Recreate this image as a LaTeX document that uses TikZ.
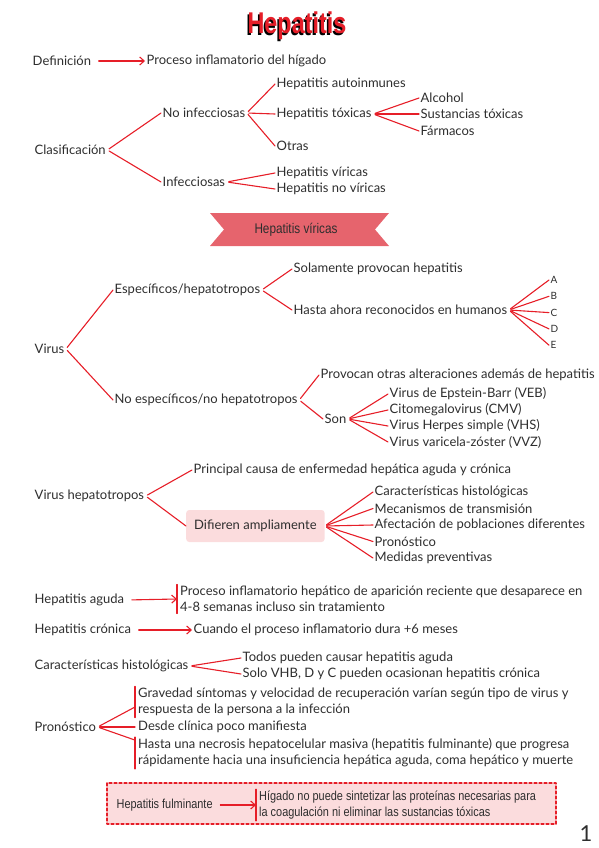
\documentclass[tikz,border=0pt]{standalone}
\usepackage{fontspec}
\setmainfont{Lato}
\newfontfamily\narrowsf[FakeStretch=0.84]{Liberation Sans}
\newfontfamily\titlesf[FakeStretch=0.78]{Liberation Sans}
\usetikzlibrary{arrows.meta}
\definecolor{mapred}{HTML}{E61E28}
\definecolor{ink}{HTML}{2E2E2E}
\definecolor{ribbon}{HTML}{E6646D}
\definecolor{blush}{HTML}{FBDCDD}
\begin{document}
\begin{tikzpicture}[x=1pt, y=-1pt, line cap=round, line join=round, font=\fontsize{13}{15}\selectfont, >={Straight Barb[length=4.5pt,width=8pt]}]
	\tikzset{txt/.style={anchor=west, inner sep=1.5pt, text=ink},
		lns/.style={txt, align=left, inner xsep=3pt, font=\fontsize{13}{16}\selectfont},
		br/.style={draw=mapred, line width=1.1pt, shorten <=2pt},
		arr/.style={br, ->, shorten <=6pt},
		bar/.style={draw=mapred, line width=1.1pt},
		slim/.style={font=\narrowsf\fontsize{13}{16}\selectfont}}
	\useasboundingbox (0,0) rectangle (599,848);
	% title
	\node[text=black, font=\titlesf\bfseries\fontsize{30}{30}\selectfont] (titleshadow) at (295.5,27.5) {Hepatitis};
	\node[text=mapred, font=\titlesf\bfseries\fontsize{30}{30}\selectfont] (title) at (297,26) {Hepatitis};
	% definicion
	\node[txt] (def) at (31,61) {Definición};
	\node[txt] (defx) at (145,61) {Proceso inflamatorio del hígado};
	\draw[arr] (def.east) -- (defx.west);
	% clasificacion
	\node[txt] (clas) at (33,150) {Clasificación};
	\node[txt] (noinf) at (161,113) {No infecciosas};
	\node[txt] (inf) at (161,182) {Infecciosas};
	\node[txt] (auto) at (275,84) {Hepatitis autoinmunes};
	\node[txt] (tox) at (275,114) {Hepatitis tóxicas};
	\node[txt] (otras) at (275,146) {Otras};
	\node[txt] (alc) at (419,98) {Alcohol};
	\node[txt] (sust) at (419,114) {Sustancias tóxicas};
	\node[txt] (farm) at (419,131) {Fármacos};
	\node[txt] (vir) at (275,173) {Hepatitis víricas};
	\node[txt] (novir) at (275,189) {Hepatitis no víricas};
	\foreach \a/\b in {clas/noinf, clas/inf, noinf/auto, noinf/tox, noinf/otras, tox/alc, tox/sust, tox/farm, inf/vir, inf/novir}
		\draw[br] (\a.east) -- (\b.west);
	% banner
	\fill[ribbon] (210,213) -- (389,213) -- (375,229.5) -- (389,246) -- (210,246) -- (224,229.5) -- cycle;
	\node[slim, text=ink, font=\narrowsf\fontsize{14}{14}\selectfont] (banner) at (296,230) {Hepatitis víricas};
	% virus
	\node[txt] (virus) at (33,349) {Virus};
	\node[txt] (esp) at (113,290) {Específicos/hepatotropos};
	\node[txt] (noesp) at (113,400) {No específicos/no hepatotropos};
	\node[txt] (solo) at (292,269) {Solamente provocan hepatitis};
	\node[txt] (hasta) at (292,310) {Hasta ahora reconocidos en humanos};
	\foreach \l [count=\i] in {A,B,C,D,E} {
		\node[txt, font=\fontsize{10}{10}\selectfont] (let\l) at (549,{263.7+16.3*\i}) {\l};
		\draw[br] (hasta.east) -- (let\l.west);
	}
	\node[txt] (prov) at (319,375) {Provocan otras alteraciones además de hepatitis};
	\node[txt] (son) at (323,419) {Son};
	\foreach \v/\t [count=\i] in {veb/Virus de Epstein-Barr (VEB), cmv/Citomegalovirus (CMV), vhs/Virus Herpes simple (VHS), vvz/Virus varicela-zóster (VVZ)} {
		\node[txt] (\v) at (388,{378+16*\i}) {\t};
		\draw[br] (son.east) -- (\v.west);
	}
	\foreach \a/\b in {virus/esp, virus/noesp, esp/solo, esp/hasta, noesp/prov, noesp/son}
		\draw[br] (\a.east) -- (\b.west);
	% virus hepatotropos
	\node[txt] (vh) at (33,496) {Virus hepatotropos};
	\node[txt] (princ) at (192,470) {Principal causa de enfermedad hepática aguda y crónica};
	\node[txt, fill=blush, rounded corners=3pt, minimum height=32pt, inner xsep=8pt] (dif) at (186,526) {Difieren ampliamente};
	\foreach \v/\t [count=\i] in {histo/Características histológicas, trans/Mecanismos de transmisión, pobl/Afectación de poblaciones diferentes, prono/Pronóstico, medid/Medidas preventivas} {
		\node[txt] (\v) at (373,{475.5+16.5*\i}) {\t};
		\draw[br] (dif.east) -- (\v.west);
	}
	\draw[br] (vh.east) -- (princ.west);
	\draw[br] (vh.east) -- (dif.west);
	% aguda y cronica
	\node[txt] (aguda) at (33,600) {Hepatitis aguda};
	\node[lns] (agudax) at (177,599) {Proceso inflamatorio hepático de aparición reciente que desaparece en\\4-8 semanas incluso sin tratamiento};
	\draw[bar] (agudax.north west) -- (agudax.south west);
	\draw[arr] (aguda.east) -- (agudax.west);
	\node[txt] (cron) at (33,630) {Hepatitis crónica};
	\node[txt] (cronx) at (192,630) {Cuando el proceso inflamatorio dura +6 meses};
	\draw[arr] (cron.east) -- (cronx.west);
	% caracteristicas histologicas
	\node[txt] (hist) at (33,666) {Características histológicas};
	\node[txt] (todos) at (241,658) {Todos pueden causar hepatitis aguda};
	\node[txt] (solovhb) at (241,674) {Solo VHB, D y C pueden ocasionan hepatitis crónica};
	\draw[br] (hist.east) -- (todos.west);
	\draw[br] (hist.east) -- (solovhb.west);
	% pronostico
	\node[txt] (pron) at (33,727) {Pronóstico};
	\node[lns] (grav) at (135,702) {Gravedad síntomas y velocidad de recuperación varían según tipo de virus y\\respuesta de la persona a la infección};
	\node[txt, inner xsep=3pt] (desde) at (135,727) {Desde clínica poco manifiesta};
	\node[lns] (necro) at (135,753) {Hasta una necrosis hepatocelular masiva (hepatitis fulminante) que progresa\\rápidamente hacia una insuficiencia hepática aguda, coma hepático y muerte};
	\draw[bar] (grav.north west) -- (grav.south west);
	\draw[bar] (necro.north west) -- (necro.south west);
	\draw[br] (pron.east) -- ([yshift=-5pt]grav.west);
	\draw[br] (pron.east) -- (desde.west);
	\draw[br] (pron.east) -- ([yshift=-3pt]necro.north west);
	% fulminante
	\draw[mapred, fill=blush, line width=1.1pt, dash pattern=on 3pt off 2pt] (107,783) rectangle (556,824);
	\node[txt, slim] (fulm) at (115,805) {Hepatitis fulminante};
	\node[lns, slim] (fulmx) at (256,805) {Hígado no puede sintetizar las proteínas necesarias para\\la coagulación ni eliminar las sustancias tóxicas};
	\draw[bar] (fulmx.north west) -- (fulmx.south west);
	\draw[arr] (fulm.east) -- (fulmx.west);
	\node[text=ink, font=\fontsize{22}{22}\selectfont] (page) at (586,834) {1};
\end{tikzpicture}
\end{document}
